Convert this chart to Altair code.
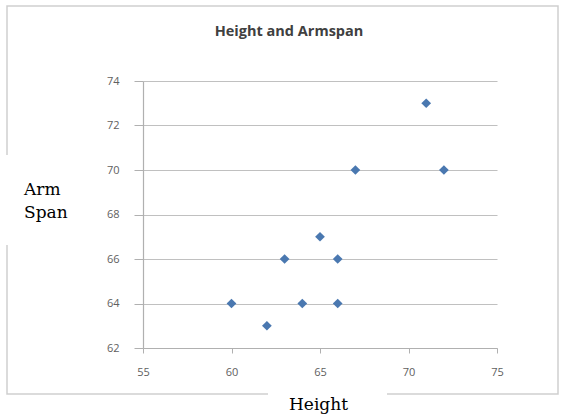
import altair as alt
import pandas as pd

# Height vs. arm span measurements (inches)
heights = [60, 62, 63, 64, 65, 66, 66, 67, 71, 72]
armspans = [64, 63, 66, 64, 67, 66, 64, 70, 73, 70]

x_ticks = [55, 60, 65, 70, 75]
y_ticks = [62, 64, 66, 68, 70, 72, 74]

title_text = "Height and Armspan"
x_title = "Height"
y_title_lines = ["Arm", "Span"]

df = pd.DataFrame({"Height": heights, "ArmSpan": armspans})
one = alt.Data(values=[{"k": 0}])

PLOT_W, PLOT_H = 354, 267
LEFT, TOP = 143, 81

# outer chart frame
frame = alt.Chart(one).mark_rect(filled=False, stroke="#cfcfcf", strokeWidth=1.5).encode(
    x=alt.value(7 - LEFT), x2=alt.value(558 - LEFT),
    y=alt.value(6 - TOP), y2=alt.value(394 - TOP),
)

points = alt.Chart(df).mark_point(
    shape="diamond", filled=True, size=95, color="#4a78b0", opacity=1
).encode(
    x=alt.X("Height:Q", scale=alt.Scale(domain=[55, 75], nice=False, zero=False),
            axis=alt.Axis(values=x_ticks, grid=False, title=None, tickSize=5,
                          labelPadding=13, labelFlush=False)),
    y=alt.Y("ArmSpan:Q", scale=alt.Scale(domain=[62, 74], nice=False, zero=False),
            axis=alt.Axis(values=y_ticks, grid=True, title=None, tickSize=9,
                          labelPadding=15, labelFlush=False)),
)

title = alt.Chart(one).mark_text(
    text=title_text, font="Open Sans", fontSize=14.5, fontWeight="bold",
    color="#404040", align="center", baseline="middle"
).encode(x=alt.value(289 - LEFT), y=alt.value(32 - TOP))

# white label boxes that sit over the frame edge
y_box = alt.Chart(one).mark_rect(fill="white").encode(
    x=alt.value(0 - LEFT), x2=alt.value(68 - LEFT),
    y=alt.value(155 - TOP), y2=alt.value(245 - TOP),
)
x_box = alt.Chart(one).mark_rect(fill="white").encode(
    x=alt.value(268 - LEFT), x2=alt.value(387 - LEFT),
    y=alt.value(377 - TOP), y2=alt.value(417 - TOP),
)

y_lab1 = alt.Chart(one).mark_text(
    text=y_title_lines[0], font="DejaVu Serif", fontSize=17, color="black",
    align="left", baseline="alphabetic"
).encode(x=alt.value(24 - LEFT), y=alt.value(195 - TOP))
y_lab2 = alt.Chart(one).mark_text(
    text=y_title_lines[1], font="DejaVu Serif", fontSize=17, color="black",
    align="left", baseline="alphabetic"
).encode(x=alt.value(24 - LEFT), y=alt.value(218 - TOP))
x_lab = alt.Chart(one).mark_text(
    text=x_title, font="DejaVu Serif", fontSize=17, color="black",
    align="left", baseline="alphabetic"
).encode(x=alt.value(289 - LEFT), y=alt.value(410 - TOP))

chart = alt.layer(
    frame, points, title, y_box, x_box, y_lab1, y_lab2, x_lab
).properties(
    width=PLOT_W, height=PLOT_H,
    autosize=alt.AutoSizeParams(type="none"),
    padding={"left": LEFT, "top": TOP, "right": 565 - LEFT - PLOT_W,
             "bottom": 417 - TOP - PLOT_H},
).configure_view(stroke=None).configure_axis(
    domainColor="#b0b0b0", tickColor="#b0b0b0", gridColor="#c0c0c0",
    labelFont="Open Sans", labelFontSize=11, labelColor="#606060",
    domainWidth=1.2, gridWidth=1.2,
)

chart.save("out.html", embed_options={"renderer": "svg", "actions": False})
